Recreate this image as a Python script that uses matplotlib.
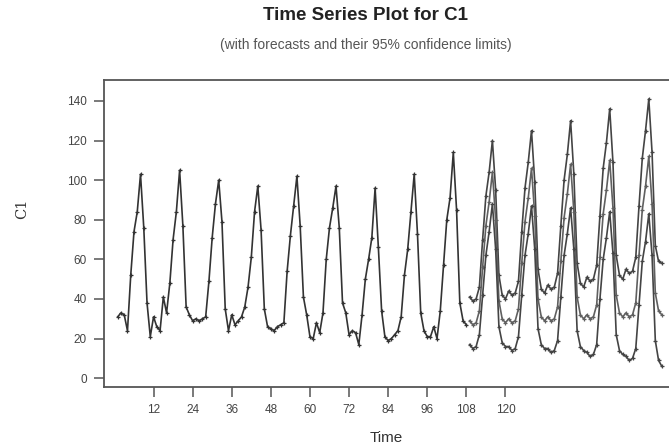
import numpy as np
import matplotlib
matplotlib.use("Agg")
import matplotlib.pyplot as plt

# observed series C1, t = 1..108
observed = [
    31, 33, 32, 24, 52, 74, 84, 103, 76, 38, 21, 31,
    26, 24, 41, 33, 48, 70, 84, 105, 77, 36, 32, 29,
    30, 29, 30, 31, 49, 71, 88, 100, 79, 35, 24, 32,
    27, 29, 31, 36, 46, 61, 84, 97, 75, 35, 26, 25,
    24, 26, 27, 28, 54, 72, 87, 102, 77, 41, 32, 21,
    20, 28, 23, 33, 60, 76, 86, 97, 76, 38, 33, 22,
    24, 23, 17, 32, 50, 60, 71, 96, 66, 34, 21, 19,
    20, 22, 24, 31, 52, 65, 84, 103, 73, 33, 24, 21,
    21, 26, 20, 34, 57, 80, 91, 114, 85, 38, 29, 27,
]

# forecasts t = 109..168
forecast = [
    29, 27, 28, 34, 56, 77, 89, 104, 80, 39, 30, 28,
    30, 28, 29, 35, 58, 79, 91, 106, 82, 40, 31, 29,
    31, 29, 30, 36, 59, 81, 93, 108, 84, 41, 32, 30,
    32, 30, 31, 37, 61, 83, 95, 110, 86, 42, 33, 31,
    33, 31, 32, 38, 62, 85, 97, 112, 88, 43, 34, 32,
]
upper = [
    41, 39, 40, 46, 70, 92, 104, 120, 95, 52, 42, 40,
    44, 42, 43, 49, 74, 96, 109, 125, 99, 55, 45, 43,
    47, 45, 46, 53, 77, 100, 113, 130, 103, 58, 48, 46,
    51, 49, 50, 57, 82, 106, 119, 136, 109, 62, 52, 50,
    55, 53, 54, 61, 87, 111, 125, 141, 114, 67, 59, 58,
]
lower = [
    17, 15, 16, 22, 42, 62, 74, 88, 65, 26, 18, 16,
    16, 14, 15, 21, 42, 62, 73, 87, 65, 25, 17, 15,
    15, 13, 14, 19, 41, 62, 73, 86, 65, 24, 16, 14,
    13, 11, 12, 17, 40, 60, 71, 84, 63, 22, 14, 12,
    11, 9, 10, 15, 37, 59, 69, 83, 62, 19, 9, 6,
]

x_ticks = [12, 24, 36, 48, 60, 72, 84, 96, 108, 120]
y_ticks = [0, 20, 40, 60, 80, 100, 120, 140]

INK = "#333333"
AXC = "#555555"
SANS = "Liberation Sans"

t_obs = np.arange(1, len(observed) + 1)
t_fc = np.arange(len(observed) + 1, len(observed) + len(forecast) + 1)

fig = plt.figure(figsize=(6.69, 4.45), dpi=100)
ax = fig.add_axes([0.155, 0.130, 0.845, 0.690])

style = dict(lw=1.2, marker="+", ms=3.5, mew=0.9)
ax.plot(t_obs, observed, color=INK, **style)
ax.plot(t_fc, upper, color="#444444", **style)
ax.plot(t_fc, forecast, color="#606060", **style)
ax.plot(t_fc, lower, color="#444444", **style)

ax.set_xlim(-3.3, 170.2)
ax.set_ylim(-4.5, 150.5)
ax.set_xticks(x_ticks)
ax.set_yticks(y_ticks)
ax.tick_params(direction="out", length=7, width=1.1, color=AXC, pad=5,
               labelsize=8.5, labelcolor="#444444")
for lab in ax.get_xticklabels() + ax.get_yticklabels():
    lab.set_family(SANS)
for sp in ax.spines.values():
    sp.set_color(AXC)
    sp.set_linewidth(1.3)
ax.spines["right"].set_visible(False)

ax.set_xlabel("Time", fontsize=11, family=SANS, color="#333333", labelpad=11)
fig.text(0.033, 0.53, "C1", rotation=90, ha="center", va="center",
         fontsize=10.5, family="DejaVu Serif", color="#333333")

fig.text(0.547, 0.965, "Time Series Plot for C1", ha="center", va="center",
         fontsize=13.5, family=SANS, color="#222222", weight="bold")
fig.text(0.547, 0.898, "(with forecasts and their 95% confidence limits)",
         ha="center", va="center", fontsize=10, family=SANS, color="#555555")

fig.savefig("out.png", dpi=100, facecolor="white")
